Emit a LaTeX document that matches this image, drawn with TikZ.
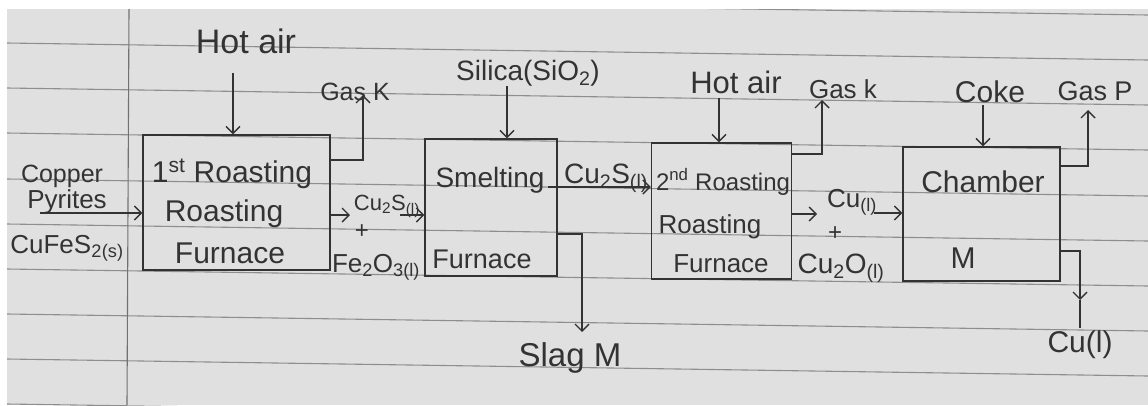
\documentclass[tikz,border=0pt]{standalone}
\usepackage{fontspec}
\setmainfont{Liberation Sans}
\usetikzlibrary{arrows.meta}
\definecolor{paper}{HTML}{E0E0E0}
\definecolor{rulecol}{HTML}{8E8E8E}
\definecolor{ink}{HTML}{333333}
\tikzset{
 hw/.style={inner sep=0pt, text=ink, anchor=base, font=\fontsize{#1}{#1}\selectfont},
 box/.style={draw=ink, line width=1.4pt, inner sep=0pt},
 arr/.style={draw=ink, line width=1.4pt, -{Straight Barb[length=7pt,width=14pt,line width=1.4pt]}},
 ln/.style={draw=ink, line width=1.4pt},
}
\begin{document}
\begin{tikzpicture}[x=1pt,y=-1pt]
\useasboundingbox (0,0) rectangle (1148,405);
\fill[white] (0,0) rectangle (1148,405);
\fill[paper] (7,9) rectangle (1148,405);
\begin{scope}
\clip (7,9) rectangle (1148,405);
\foreach \yy in {-2,43,88,133,179,224,269,314,359,404}
  \draw[rulecol, line width=1.1pt] (7,\yy) -- (1148,\yy+17);
\draw[rulecol!80!black, line width=1.1pt] (129,9) -- (127,405);
\end{scope}

% boxes
\node[box, minimum width=187pt, minimum height=135pt] (b1) at (236.5,202.5) {};
\node[box, minimum width=132pt, minimum height=137pt] (b2) at (491,207.5) {};
\node[box, minimum width=140pt, minimum height=136pt] (b3) at (721.5,211) {};
\node[box, minimum width=157pt, minimum height=134pt] (b4) at (981.5,214) {};

% box texts
\node[hw=30pt] (t11) at (232,182) {1\textsuperscript{st} Roasting};
\node[hw=30pt] (t12) at (224,221) {Roasting};
\node[hw=30pt] (t13) at (230,263) {Furnace};
\node[hw=28pt] (t21) at (490,187) {Smelting};
\node[hw=27pt] (t22) at (482,268) {Furnace};
\node[hw=24pt] (t31) at (723,190) {2\textsuperscript{nd} Roasting};
\node[hw=26pt] (t32) at (710,233) {Roasting};
\node[hw=26pt] (t33) at (721,272) {Furnace};
\node[hw=30pt] (t41) at (983,192) {Chamber};
\node[hw=30pt] (t42) at (963,268) {M};

% outside labels
\node[hw=34pt] (hot1) at (246,53) {Hot air};
\node[hw=25pt] (gasK) at (355,100) {Gas K};
\node[hw=25pt] (cop) at (62,182) {Copper};
\node[hw=26pt] (pyr) at (67,208) {Pyrites};
\node[hw=26pt] (cfs) at (67,253) {CuFeS\textsubscript{2}\textsubscript{(s)}};
\node[hw=22pt] (cs1) at (387,210) {Cu\textsubscript{2}S\textsubscript{(l)}};
\node[hw=24pt] (pl1) at (362,238) {+};
\node[hw=26pt] (feo) at (376,272) {Fe\textsubscript{2}O\textsubscript{3(l)}};
\node[hw=28pt] (sil) at (528,80) {Silica(SiO\textsubscript{2})};
\node[hw=28pt] (cs2) at (606,183) {Cu\textsubscript{2}S\textsubscript{(l)}};
\node[hw=33pt] (slag) at (570,366) {Slag M};
\node[hw=31pt] (hot2) at (736,93) {Hot air};
\node[hw=26pt] (gask) at (843,98) {Gas k};
\node[hw=26pt] (cul) at (852,207) {Cu\textsubscript{(l)}};
\node[hw=24pt] (pl2) at (835,240) {+};
\node[hw=28pt] (cuo) at (841,273) {Cu\textsubscript{2}O\textsubscript{(l)}};
\node[hw=30pt] (coke) at (990,102) {Coke};
\node[hw=27pt] (gasP) at (1095,100) {Gas P};
\node[hw=30pt] (cub) at (1080,352) {Cu(l)};

% connectors
\coordinate (h1) at (233,73);
\draw[arr] (h1) -- (h1 |- b1.north);
\coordinate (k1) at (363,95);
\draw[arr] (b1.east |- 0,160) -| (k1);
\coordinate (c1) at (40,213);
\draw[arr] (c1) -- (c1 -| b1.west);
\coordinate (o1) at (350,215);
\draw[arr] (b1.east |- o1) -- (o1);
\coordinate (o2) at (400,215);
\draw[arr] (o2) -- (o2 -| b2.west);
\coordinate (s1) at (507,86);
\draw[arr] (s1) -- (s1 |- b2.north);
\coordinate (c2) at (548,187);
\draw[arr] (c2) -- (c2 -| b3.west);
\coordinate (sl) at (582,332);
\draw[arr] (b2.east |- 0,234) -| (sl);
\coordinate (h2) at (719,98);
\draw[arr] (h2) -- (h2 |- b3.north);
\coordinate (k2) at (822,100);
\draw[arr] (b3.east |- 0,154) -| (k2);
\coordinate (o3) at (817,214);
\draw[arr] (b3.east |- o3) -- (o3);
\coordinate (o4) at (874,213);
\draw[arr] (o4) -- (o4 -| b4.west);
\coordinate (k3) at (983,105);
\draw[arr] (k3) -- (k3 |- b4.north);
\coordinate (p1) at (1088,110);
\draw[arr] (b4.east |- 0,166) -| (p1);
\coordinate (cuA) at (1080,300);
\coordinate (cuB) at (1080,328);
\draw[arr] (b4.east |- 0,251) -| (cuA);
\draw[ln] (cuA) -- (cuB);
\end{tikzpicture}
\end{document}
